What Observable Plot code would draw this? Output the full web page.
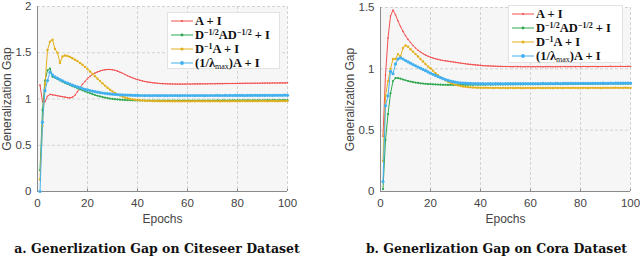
<!DOCTYPE html>
<html><head><meta charset="utf-8">
<script src="https://cdn.jsdelivr.net/npm/d3@7"></script>
<script src="https://cdn.jsdelivr.net/npm/@observablehq/plot@0.6"></script>
<style>
body{margin:0;background:#fff;}
#wrap{position:relative;width:640px;height:259px;overflow:hidden;font-family:"Liberation Sans",Arial,sans-serif;}
.panel{position:absolute;top:0;width:320px;height:232px;}
.legend{position:absolute;background:#fff;border:1px solid #e2e2e2;font-family:"Liberation Serif","DejaVu Serif",serif;font-weight:bold;font-size:12.5px;color:#111;box-sizing:border-box;}
.row{position:absolute;left:0;height:14px;line-height:14px;white-space:nowrap;}
.row svg{position:absolute;left:1px;top:0;}
.row span{position:absolute;left:27px;top:0.5px;}
.legend sup{font-size:8px;vertical-align:4px;line-height:0;}
.legend sub{font-size:8px;vertical-align:-2px;line-height:0;font-weight:normal;}
.cap{position:absolute;top:240px;height:18px;line-height:18px;font-family:"DejaVu Serif",serif;font-weight:bold;font-size:12.5px;text-align:center;color:#111;white-space:nowrap;}
</style></head>
<body><div id="wrap"></div>
<script>
// ---------- data ----------
const seriesNames = ["A + I", "D^-1/2 A D^-1/2 + I", "D^-1 A + I", "(1/λmax)A + I"];
const seriesColors = ["#f25050", "#2fa84f", "#e3b01c", "#42b0ef"];
const xTicks = [0, 20, 40, 60, 80, 100];
const yTicksCiteseer = [0, 0.5, 1, 1.5, 2];
const yTicksCora = [0, 0.5, 1, 1.5];
const captions = ["a. Generlization Gap on Citeseer Dataset", "b. Generlization Gap on Cora Dataset"];
const yLabel = "Generalization Gap";
const xLabel = "Epochs";

// Citeseer (epochs 1..100)
const citeseerAI = [1.15,0.97,0.97,1.03,1.05,1.045,1.04,1.035,1.03,1.025,
1.02,1.015,1.012,1.02,1.04,1.08,1.12,1.16,1.19,1.22,
1.245,1.265,1.28,1.293,1.303,1.311,1.316,1.319,1.319,1.316,
1.31,1.301,1.29,1.278,1.265,1.252,1.24,1.229,1.219,1.21,
1.202,1.195,1.189,1.184,1.18,1.176,1.173,1.17,1.168,1.166,
1.165,1.164,1.163,1.162,1.162,1.161,1.161,1.161,1.161,1.162,
1.162,1.162,1.163,1.163,1.163,1.164,1.164,1.164,1.165,1.165,
1.165,1.166,1.166,1.166,1.167,1.167,1.167,1.168,1.168,1.168,
1.169,1.169,1.169,1.17,1.17,1.17,1.171,1.171,1.171,1.172,
1.172,1.172,1.172,1.173,1.173,1.173,1.174,1.174,1.174,1.175];
const citeseerSym = [0.23,0.88,1.20,1.31,1.33,1.24,1.23,1.215,1.20,1.187,
1.174,1.162,1.15,1.138,1.127,1.116,1.105,1.094,1.083,1.072,
1.062,1.052,1.043,1.035,1.028,1.021,1.015,1.01,1.005,1.001,
0.998,0.995,0.993,0.991,0.989,0.988,0.987,0.986,0.985,0.985,
0.984,0.984,0.983,0.983,0.983,0.983,0.982,0.982,0.982,0.982,
0.982,0.982,0.983,0.982,0.983,0.983,0.982,0.983,0.983,0.983,
0.983,0.984,0.983,0.984,0.984,0.983,0.984,0.984,0.984,0.984,
0.984,0.985,0.984,0.985,0.985,0.984,0.985,0.985,0.985,0.985,
0.985,0.986,0.985,0.986,0.986,0.985,0.986,0.986,0.986,0.986,
0.986,0.987,0.986,0.987,0.987,0.986,0.987,0.987,0.987,0.987];
const citeseerRw = [0.13,0.71,1.16,1.53,1.62,1.64,1.54,1.50,1.39,1.46,
1.47,1.465,1.455,1.44,1.425,1.41,1.39,1.37,1.347,1.323,
1.298,1.272,1.246,1.22,1.194,1.169,1.145,1.122,1.101,1.082,
1.065,1.05,1.037,1.026,1.016,1.008,1.001,0.996,0.992,0.989,
0.986,0.984,0.982,0.981,0.98,0.979,0.978,0.978,0.977,0.977,
0.977,0.976,0.977,0.976,0.976,0.977,0.976,0.976,0.977,0.976,
0.976,0.977,0.976,0.977,0.977,0.976,0.977,0.977,0.976,0.977,
0.977,0.977,0.976,0.977,0.977,0.977,0.976,0.977,0.977,0.977,
0.977,0.978,0.977,0.977,0.978,0.977,0.978,0.977,0.978,0.978,
0.978,0.977,0.978,0.978,0.978,0.977,0.978,0.978,0.978,0.978];
const citeseerLam = [0.0,0.75,1.09,1.20,1.29,1.26,1.24,1.225,1.21,1.197,
1.184,1.172,1.161,1.15,1.14,1.131,1.122,1.113,1.105,1.098,
1.091,1.085,1.079,1.074,1.069,1.065,1.061,1.058,1.055,1.052,
1.05,1.048,1.046,1.044,1.043,1.042,1.041,1.04,1.039,1.039,
1.038,1.038,1.037,1.038,1.037,1.037,1.038,1.037,1.037,1.038,
1.037,1.037,1.038,1.037,1.038,1.037,1.037,1.038,1.038,1.037,
1.038,1.038,1.037,1.038,1.038,1.038,1.037,1.038,1.038,1.038,
1.038,1.039,1.038,1.038,1.039,1.038,1.039,1.038,1.039,1.039,
1.039,1.039,1.038,1.039,1.039,1.039,1.04,1.039,1.039,1.04,
1.039,1.04,1.04,1.039,1.04,1.04,1.04,1.04,1.041,1.04];

// Cora (epochs 1..100)
const coraAI = [0.45,0.95,1.25,1.43,1.48,1.44,1.39,1.345,1.305,1.27,
1.24,1.215,1.19,1.17,1.152,1.137,1.124,1.113,1.103,1.095,
1.088,1.082,1.077,1.072,1.068,1.065,1.062,1.059,1.056,1.053,
1.05,1.047,1.044,1.041,1.038,1.036,1.034,1.032,1.03,1.028,
1.026,1.025,1.024,1.023,1.022,1.021,1.02,1.02,1.019,1.019,
1.019,1.018,1.018,1.019,1.018,1.018,1.017,1.018,1.018,1.017,
1.018,1.017,1.018,1.018,1.017,1.018,1.018,1.018,1.017,1.018,
1.018,1.018,1.019,1.018,1.018,1.018,1.019,1.018,1.019,1.018,
1.019,1.019,1.018,1.019,1.019,1.019,1.018,1.019,1.019,1.019,
1.019,1.02,1.019,1.019,1.019,1.02,1.019,1.019,1.02,1.019];
const coraSym = [0.02,0.42,0.63,0.80,0.90,0.925,0.925,0.92,0.913,0.907,
0.901,0.896,0.892,0.888,0.885,0.882,0.88,0.878,0.876,0.875,
0.874,0.873,0.872,0.871,0.87,0.87,0.869,0.869,0.869,0.869,
0.869,0.869,0.87,0.869,0.87,0.87,0.87,0.871,0.87,0.871,
0.871,0.871,0.872,0.871,0.872,0.872,0.872,0.872,0.873,0.872,
0.873,0.873,0.873,0.873,0.874,0.873,0.874,0.874,0.874,0.874,
0.874,0.875,0.874,0.875,0.875,0.875,0.875,0.875,0.876,0.875,
0.876,0.876,0.876,0.876,0.876,0.877,0.876,0.877,0.877,0.877,
0.877,0.877,0.877,0.878,0.877,0.878,0.878,0.878,0.878,0.878,
0.878,0.879,0.878,0.879,0.879,0.879,0.879,0.879,0.879,0.88];
const coraRw = [0.25,0.78,0.90,1.0,1.08,1.08,1.12,1.10,1.17,1.19,
1.18,1.16,1.14,1.12,1.10,1.08,1.06,1.04,1.02,1.005,
0.985,0.965,0.948,0.932,0.918,0.906,0.895,0.886,0.878,0.871,
0.865,0.86,0.856,0.853,0.851,0.849,0.848,0.847,0.846,0.846,
0.845,0.846,0.845,0.845,0.844,0.845,0.845,0.844,0.845,0.844,
0.844,0.845,0.844,0.844,0.845,0.844,0.844,0.844,0.845,0.844,
0.844,0.844,0.845,0.844,0.844,0.844,0.845,0.844,0.844,0.845,
0.844,0.845,0.844,0.845,0.845,0.844,0.845,0.845,0.844,0.845,
0.845,0.845,0.844,0.845,0.845,0.845,0.845,0.844,0.845,0.845,
0.845,0.845,0.845,0.846,0.845,0.845,0.845,0.846,0.845,0.845];
const coraLam = [0.08,0.70,0.78,0.98,0.96,1.04,1.08,1.09,1.08,1.068,
1.057,1.046,1.035,1.025,1.015,1.005,0.995,0.985,0.975,0.965,
0.955,0.946,0.937,0.928,0.92,0.913,0.906,0.9,0.895,0.891,
0.888,0.886,0.884,0.883,0.882,0.881,0.88,0.88,0.879,0.879,
0.879,0.878,0.879,0.879,0.878,0.879,0.879,0.879,0.878,0.879,
0.879,0.879,0.88,0.879,0.879,0.88,0.879,0.88,0.88,0.879,
0.88,0.88,0.88,0.88,0.881,0.88,0.88,0.881,0.88,0.881,
0.881,0.88,0.881,0.881,0.881,0.881,0.882,0.881,0.881,0.882,
0.881,0.882,0.882,0.881,0.882,0.882,0.882,0.882,0.883,0.882,
0.882,0.883,0.882,0.883,0.883,0.883,0.883,0.883,0.884,0.883];

// ---------- drawing ----------
const markerR = [0.8, 1.1, 1.2, 1.6];
const toRows = (arr) => arr.map((v, i) => ({epoch: i + 1, value: v}));
const fmt = (d) => String(d);

function makePanel(series, yDomain, yTicks, m) {
  const marks = [
    Plot.frame({fill: "#f6f6f6", stroke: "none"}),
    Plot.gridX(xTicks, {stroke: "#d2d2d2", strokeOpacity: 1, strokeDasharray: "3,2"}),
    Plot.gridY(yTicks, {stroke: "#d2d2d2", strokeOpacity: 1, strokeDasharray: "3,2"}),
    Plot.ruleX([0], {stroke: "#8a8a8a"}),
    Plot.ruleY([0], {stroke: "#8a8a8a"}),
    Plot.ruleX(xTicks, {y1: 0, y2: yDomain[1] * 0.012, stroke: "#8a8a8a"}),
    Plot.axisX({ticks: xTicks, tickSize: 0, tickPadding: 7, tickFormat: fmt, label: null, fontSize: 11.5}),
    Plot.axisY({ticks: yTicks, tickSize: 0, tickPadding: 6, tickFormat: fmt, label: null, fontSize: 11.5}),
    Plot.text([yLabel], {frameAnchor: "left", textAnchor: "middle", lineAnchor: "middle", rotate: -90, dx: -30, fontSize: 12, fill: "#444"}),
    Plot.text([xLabel], {frameAnchor: "bottom", dy: 31, fontSize: 12, fill: "#444"})
  ];
  series.forEach((s, k) => {
    const rows = toRows(s);
    marks.push(Plot.line(rows, {x: "epoch", y: "value", stroke: seriesColors[k], strokeWidth: 1}));
    marks.push(Plot.dot(rows, {x: "epoch", y: "value", r: markerR[k], fill: seriesColors[k], stroke: "none"}));
  });
  return Plot.plot({
    width: 320, height: 232,
    marginLeft: m.l, marginRight: m.r, marginTop: m.t, marginBottom: 41,
    x: {domain: [0, 100]},
    y: {domain: yDomain},
    style: {fontFamily: "'Liberation Sans', Arial, sans-serif", fontSize: "11.5px", color: "#444", background: "transparent", overflow: "visible"},
    marks
  });
}

const wrap = document.getElementById("wrap");
const specs = [
  {series: [citeseerAI, citeseerSym, citeseerRw, citeseerLam], yDomain: [0, 2], yTicks: yTicksCiteseer, m: {l: 37, r: 33, t: 6}, left: 0,
   legend: {x: 167, y: 12, w: 113, h: 57}, capLeft: 12, capW: 290},
  {series: [coraAI, coraSym, coraRw, coraLam], yDomain: [0, 1.5], yTicks: yTicksCora, m: {l: 60, r: 10, t: 7}, left: 320,
   legend: {x: 508, y: 5, w: 115, h: 58}, capLeft: 375, capW: 243}
];
const legendHTML = ["A + I", "D<sup>−1/2</sup>AD<sup>−1/2</sup> + I", "D<sup>−1</sup>A + I", "(1/λ<sub>max</sub>)A + I"];

specs.forEach((sp, idx) => {
  const div = document.createElement("div");
  div.className = "panel";
  div.style.left = sp.left + "px";
  div.appendChild(makePanel(sp.series, sp.yDomain, sp.yTicks, sp.m));
  wrap.appendChild(div);

  const lg = document.createElement("div");
  lg.className = "legend";
  Object.assign(lg.style, {left: sp.legend.x + "px", top: sp.legend.y + "px", width: sp.legend.w + "px", height: sp.legend.h + "px"});
  seriesNames.forEach((name, k) => {
    const row = document.createElement("div");
    row.className = "row";
    row.style.top = (0.5 + k * 14) + "px";
    row.innerHTML = `<svg width="25" height="14"><line x1="2" x2="24" y1="7" y2="7" stroke="${seriesColors[k]}" stroke-width="1"/><circle cx="13" cy="7" r="${markerR[k] + 0.3}" fill="${seriesColors[k]}"/></svg><span>${legendHTML[k]}</span>`;
    row.title = name;
    lg.appendChild(row);
  });
  wrap.appendChild(lg);

  const cap = document.createElement("div");
  cap.className = "cap";
  cap.style.left = (sp.capLeft - 20) + "px";
  cap.style.width = (sp.capW + 40) + "px";
  cap.textContent = captions[idx];
  wrap.appendChild(cap);
});
</script>
</body></html>
